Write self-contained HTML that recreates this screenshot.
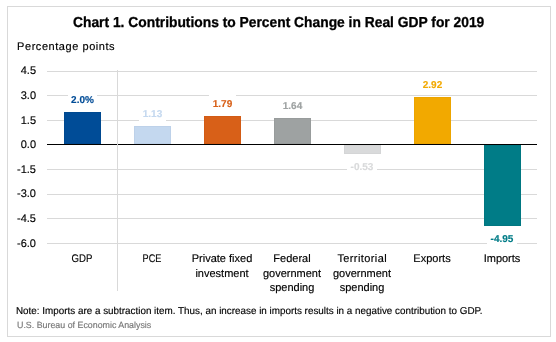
<!DOCTYPE html>
<html><head><meta charset="utf-8">
<style>
html,body{margin:0;padding:0;background:#fff;}
body{width:556px;height:342px;position:relative;overflow:hidden;font-family:"Liberation Sans",sans-serif;text-rendering:geometricPrecision;-webkit-text-stroke:0.15px currentColor;}
.a{position:absolute;}
.frame{left:7px;top:6px;width:544px;height:331px;box-sizing:border-box;border:1px solid #d9d9d9;}
.g{position:absolute;left:47px;width:490px;height:1px;background:#d9d9d9;}
.t{position:absolute;white-space:nowrap;line-height:1;}
.yl{position:absolute;right:520px;font-size:11px;color:#000;white-space:nowrap;line-height:12px;}
.cat{position:absolute;width:70px;text-align:center;font-size:11px;line-height:14.6px;color:#000;}
.lb{position:absolute;background:#fff;font-weight:bold;font-size:10px;text-align:center;line-height:1;}
.bar{position:absolute;width:37px;box-sizing:border-box;border:1px solid;}
</style></head>
<body style="will-change:transform">
<div class="a frame"></div>
<div class="t" id="title" style="left:72.5px;top:16px;font-size:14.5px;font-weight:bold;-webkit-text-stroke:0.3px #000;transform:scaleX(0.953);transform-origin:0 0;">Chart 1. Contributions to Percent Change in Real GDP for 2019</div>
<div class="t" id="pp" style="left:17.1px;top:42px;font-size:11px;letter-spacing:0.55px;">Percentage points</div>

<div class="g" style="top:71px"></div>
<div class="g" style="top:95px"></div>
<div class="g" style="top:120px"></div>
<div class="g" style="top:169px"></div>
<div class="g" style="top:194px"></div>
<div class="g" style="top:218px"></div>
<div class="g" style="top:243px"></div>

<div class="yl" id="y0" style="top:64.7px">4.5</div>
<div class="yl" id="y1" style="top:90px">3.0</div>
<div class="yl" id="y2" style="top:114.5px">1.5</div>
<div class="yl" id="y3" style="top:139px">0.0</div>
<div class="yl" id="y4" style="top:164px">-1.5</div>
<div class="yl" id="y5" style="top:188.4px">-3.0</div>
<div class="yl" id="y6" style="top:212.5px">-4.5</div>
<div class="yl" id="y7" style="top:238px">-6.0</div>

<div class="bar" style="left:64px;top:112px;height:32px;background:#004c97;border-color:#004990"></div>
<div class="bar" style="left:134px;top:126px;height:18px;background:#c4d8ef;border-color:#bdd1e9"></div>
<div class="bar" style="left:204px;top:116px;height:28px;background:#d86018;border-color:#d25b15"></div>
<div class="bar" style="left:274px;top:118px;height:26px;background:#9ea2a2;border-color:#989c9c"></div>
<div class="bar" style="left:344px;top:145px;height:9px;background:#d9dadb;border-color:#d4d5d6"></div>
<div class="bar" style="left:414px;top:97px;height:47px;background:#f2a900;border-color:#eca400"></div>
<div class="bar" style="left:484px;top:145px;height:81px;background:#007c87;border-color:#007781"></div>

<div class="a" style="left:47px;top:144px;width:490px;height:1px;background:#000"></div>
<div class="a" style="left:117px;top:70px;width:1px;height:221px;background:#d9d9d9"></div>

<div class="lb" style="left:68px;top:90px;width:29px;height:18px;color:#004c97"><span id="l0" style="position:relative;top:6px">2.0%</span></div>
<div class="lb" style="left:139px;top:104px;width:27px;height:18px;color:#c4d8ef"><span id="l1" style="position:relative;top:6px">1.13</span></div>
<div class="lb" style="left:209px;top:94px;width:27px;height:18px;color:#d86018"><span id="l2" style="position:relative;top:6px">1.79</span></div>
<div class="lb" style="left:279px;top:96px;width:27px;height:18px;color:#9ea2a2"><span id="l3" style="position:relative;top:6px">1.64</span></div>
<div class="lb" style="left:347px;top:157px;width:30px;height:18px;color:#d9dadb"><span id="l4" style="position:relative;top:6px">-0.53</span></div>
<div class="lb" style="left:419px;top:75px;width:27px;height:18px;color:#f2a900"><span id="l5" style="position:relative;top:6px">2.92</span></div>
<div class="lb" style="left:487px;top:229px;width:30px;height:18px;color:#007c87"><span id="l6" style="position:relative;top:6px">-4.95</span></div>

<div class="cat" id="c0" style="left:47px;top:252px;transform:scaleX(0.874)">GDP</div>
<div class="cat" id="c1" style="left:117px;top:252px;transform:scaleX(0.83)">PCE</div>
<div class="cat" id="c2a" style="left:187px;top:252px">Private fixed</div>
<div class="cat" id="c2b" style="left:187px;top:266.6px">investment</div>
<div class="cat" id="c3a" style="left:257px;top:252px">Federal</div>
<div class="cat" id="c3b" style="left:257px;top:266.6px">government</div>
<div class="cat" id="c3c" style="left:257px;top:281.2px">spending</div>
<div class="cat" id="c4a" style="left:327px;top:252px;letter-spacing:0.4px;padding-left:0.4px;box-sizing:border-box">Territorial</div>
<div class="cat" id="c4b" style="left:327px;top:266.6px">government</div>
<div class="cat" id="c4c" style="left:327px;top:281.2px">spending</div>
<div class="cat" id="c5" style="left:397px;top:252px">Exports</div>
<div class="cat" id="c6" style="left:467px;top:252px">Imports</div>

<div class="t" id="note" style="left:16.4px;top:306.5px;font-size:10px;transform:scaleX(0.986);transform-origin:0 0;">Note: Imports are a subtraction item. Thus, an increase in imports results in a negative contribution to GDP.</div>
<div class="t" id="src" style="left:17px;top:321px;font-size:9px;color:#767676;transform:scaleX(0.983);transform-origin:0 0;">U.S. Bureau of Economic Analysis</div>
</body></html>
